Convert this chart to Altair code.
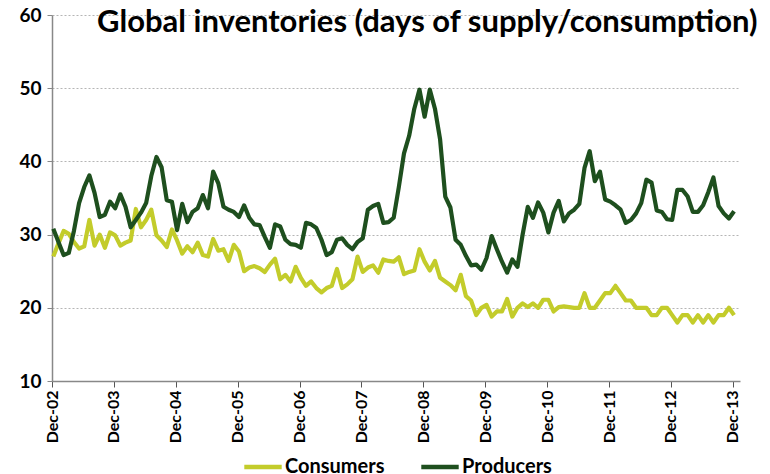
import altair as alt
import pandas as pd

TITLE = "Global inventories (days of supply/consumption)"
SERIES = ["Consumers", "Producers"]
COLORS = ["#c3cc2b", "#1e4f1e"]

# monthly values, Dec-2002 .. Dec-2013 (133 months)
consumers = [
    27.0, 28.8, 30.5, 30.1, 29.0, 28.1, 28.4, 32.0, 28.5, 30.0,
    28.2, 30.3, 29.9, 28.5, 28.9, 29.2, 33.5, 31.0, 32.0, 33.4,
    29.9, 29.2, 28.3, 30.7, 29.2, 27.4, 28.4, 27.6, 28.9, 27.2,
    27.0, 29.4, 27.8, 28.0, 26.4, 28.6, 27.7, 25.0, 25.5, 25.7,
    25.4, 24.9, 25.9, 26.7, 23.9, 24.5, 23.6, 25.6, 24.1, 23.0,
    23.6, 22.7, 22.1, 22.7, 23.0, 25.3, 22.7, 23.2, 23.9, 27.0,
    24.9, 25.5, 25.8, 24.8, 26.6, 26.4, 26.3, 26.9, 24.6, 24.9,
    25.1, 28.0, 26.3, 25.1, 26.4, 24.1, 23.6, 23.1, 22.4, 24.5,
    21.6, 21.0, 19.0, 20.0, 20.4, 18.8, 19.5, 19.5, 21.2, 18.8,
    20.0, 20.6, 20.1, 20.6, 20.0, 21.1, 21.1, 19.5, 20.1, 20.2,
    20.1, 20.0, 20.0, 22.0, 20.0, 20.0, 21.0, 22.0, 22.0, 23.0,
    22.0, 21.0, 21.0, 20.0, 20.0, 20.0, 19.0, 19.0, 20.0, 20.0,
    19.0, 18.0, 19.0, 19.0, 18.0, 19.0, 18.0, 19.0, 18.0, 19.0,
    19.0, 20.0, 19.0,
]
producers = [
    30.8, 29.0, 27.2, 27.5, 30.5, 34.3, 36.5, 38.1, 35.7, 32.4,
    32.7, 34.5, 33.6, 35.5, 33.8, 31.0, 32.0, 33.0, 34.3, 38.0,
    40.6, 39.2, 34.7, 34.5, 30.6, 34.2, 31.7, 33.1, 33.6, 35.4,
    33.6, 38.6, 37.0, 33.8, 33.4, 33.1, 32.4, 34.0, 32.3, 31.4,
    31.3, 29.7, 28.2, 31.4, 31.1, 29.3, 28.7, 28.6, 28.2, 31.6,
    31.4, 30.9, 29.3, 27.2, 27.6, 29.3, 29.5, 28.6, 28.0, 29.0,
    29.5, 33.4, 33.9, 34.2, 31.6, 31.7, 32.3, 36.5, 41.1, 43.5,
    47.2, 49.8, 46.1, 49.8, 47.2, 43.0, 35.2, 33.7, 29.3, 28.6,
    27.1, 25.8, 25.9, 25.2, 26.8, 29.8, 28.0, 26.3, 24.8, 26.6,
    25.6, 30.0, 33.8, 32.3, 34.4, 33.0, 30.3, 33.0, 34.6, 31.8,
    32.9, 33.4, 34.2, 39.1, 41.4, 37.3, 38.6, 34.8, 34.5, 34.0,
    33.4, 31.6, 32.0, 32.9, 34.3, 37.5, 37.1, 33.3, 33.1, 32.1,
    32.0, 36.1, 36.1, 35.2, 33.1, 33.1, 34.0, 35.8, 37.8, 33.9,
    32.9, 32.2, 33.2,
]
year_ticks = list(range(0, 133, 12))  # month index of each December

n = len(producers)
df = pd.DataFrame({
    "m": list(range(n)) * 2,
    "v": consumers + producers,
    "series": ["Consumers"] * n + ["Producers"] * n,
})

FONT = "Lato"

x_enc = alt.X(
    "xpos:Q",
    scale=alt.Scale(domain=[0, 133.4], nice=False, zero=False),
    axis=alt.Axis(
        values=year_ticks,
        labelExpr="'Dec-' + (datum.value/12 + 2 < 10 ? '0' : '') + (datum.value/12 + 2)",
        labelAngle=270,
        labelFont=FONT, labelFontSize=16, labelFontWeight="bold", labelColor="black",
        labelPadding=3,
        grid=False, domainColor="#888888", domainWidth=1.5,
        tickColor="#555555", tickSize=6, tickWidth=1,
        title=None,
    ),
)
y_enc = alt.Y(
    "v:Q",
    scale=alt.Scale(domain=[10, 60], nice=False, zero=False),
    axis=alt.Axis(
        values=[10, 20, 30, 40, 50, 60],
        labelFont=FONT, labelFontSize=19, labelFontWeight="bold", labelColor="black",
        labelPadding=6,
        grid=True, gridColor="#b5b5b5", gridDash=[2, 2], gridWidth=1,
        domainColor="#888888", domainWidth=1.5,
        tickColor="#888888", tickSize=5,
        title=None,
    ),
)
color_enc = alt.Color(
    "series:N",
    scale=alt.Scale(domain=SERIES, range=COLORS),
    legend=alt.Legend(
        orient="none", legendX=190, legendY=431, direction="horizontal",
        title=None, symbolType="stroke", symbolStrokeWidth=4.5, symbolSize=1400,
        labelFont=FONT, labelFontSize=20, labelFontWeight="bold", labelColor="black",
        columnPadding=27, labelOffset=1,
    ),
)

base = alt.Chart(df).transform_calculate(xpos="datum.m + 0.25")

cons_line = base.transform_filter(alt.datum.series == "Consumers").mark_line(
    strokeWidth=4.2, strokeJoin="round"
).encode(x=x_enc, y=y_enc, color=color_enc)

prod_line = base.transform_filter(alt.datum.series == "Producers").mark_line(
    strokeWidth=4.2, strokeJoin="round"
).encode(x=x_enc, y=y_enc, color=color_enc)

title = alt.Chart(pd.DataFrame({"t": [TITLE]})).mark_text(
    align="left", baseline="alphabetic", font=FONT, fontSize=31, fontWeight="bold", color="black"
).encode(x=alt.value(45), y=alt.value(17), text="t:N")

chart = alt.layer(cons_line, prod_line, title).properties(
    width=688, height=366,
    autosize=alt.AutoSizeParams(type="none"),
    padding={"left": 44, "top": 7, "right": 22, "bottom": 93},
).configure_view(stroke=None)

chart.save("out.html", embed_options={"renderer": "svg", "actions": False})
